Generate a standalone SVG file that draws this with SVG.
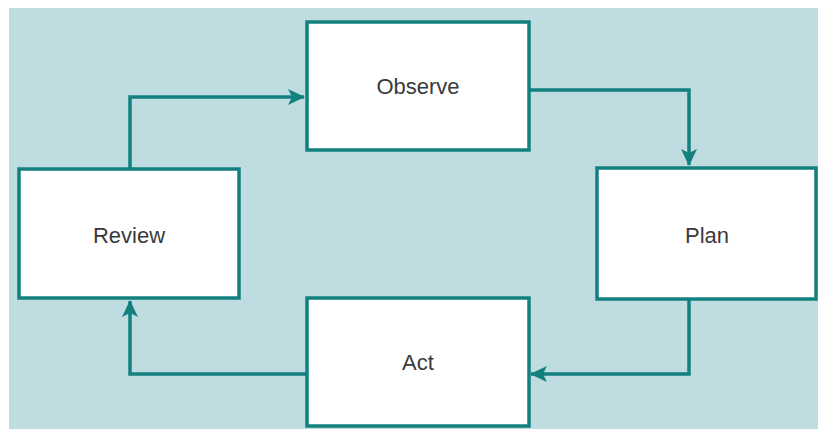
<svg xmlns="http://www.w3.org/2000/svg" width="818" height="430" viewBox="0 0 818 430">
<style>
.box{fill:#ffffff;stroke:#12807f;stroke-width:3.5}
.lbl{font-family:"Liberation Sans",Arial,sans-serif;font-size:22px;fill:#3a3a3a;text-anchor:middle;dominant-baseline:central}
.conn{fill:none;stroke:#12807f;stroke-width:3.5}
</style>
<defs>
<marker id="arr" markerUnits="userSpaceOnUse" markerWidth="20" markerHeight="20" refX="16" refY="8" orient="auto">
<path d="M0,0 L17,8 L0,16 L4,8 Z" fill="#12807f"/>
</marker>
</defs>
<rect x="9" y="8" width="809" height="421" fill="#bfdde0"/>
<g id="connectors">
<polyline class="conn" points="130,168 130,97 304,97" marker-end="url(#arr)"/>
<polyline class="conn" points="529,90 689,90 689,165" marker-end="url(#arr)"/>
<polyline class="conn" points="689,300 689,374 531,374" marker-end="url(#arr)"/>
<polyline class="conn" points="306,374 130,374 130,301" marker-end="url(#arr)"/>
</g>
<g id="observe"><rect class="box" x="307" y="22" width="222" height="128"/><text class="lbl" x="418" y="86">Observe</text></g>
<g id="plan"><rect class="box" x="597" y="168" width="219" height="131"/><text class="lbl" x="707" y="235">Plan</text></g>
<g id="act"><rect class="box" x="307" y="298" width="222" height="128"/><text class="lbl" x="418" y="362">Act</text></g>
<g id="review"><rect class="box" x="19" y="169" width="220" height="129"/><text class="lbl" x="129" y="235">Review</text></g>
</svg>
